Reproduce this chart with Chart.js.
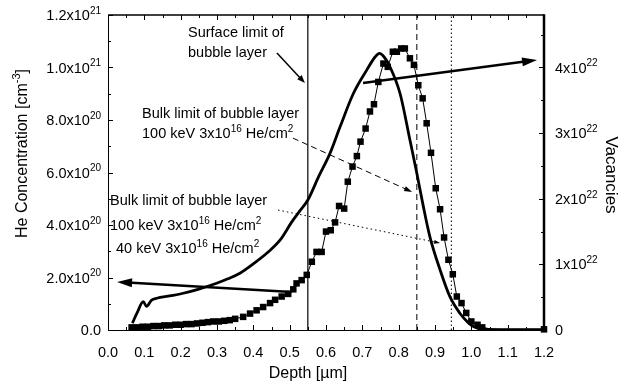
<!DOCTYPE html>
<html>
<head>
<meta charset="utf-8">
<script src="https://cdn.jsdelivr.net/npm/chart.js@4.4.1/dist/chart.umd.min.js"></script>
<style>
  body { margin: 0; background: #fff; }
  canvas { display: block; }
</style>
</head>
<body>
<canvas id="depthChart" width="621" height="390"></canvas>
<script>
// He concentration (cm^-3) against depth (um)
const heDepth = [0.067, 0.080, 0.097, 0.106, 0.120, 0.134, 0.170, 0.207, 0.250, 0.299,
  0.330, 0.363, 0.400, 0.440, 0.475, 0.505, 0.525, 0.550, 0.580, 0.611,
  0.639, 0.675, 0.712, 0.735, 0.747, 0.760, 0.776, 0.804, 0.831, 0.850,
  0.868, 0.886, 0.914, 0.941, 0.969, 0.990, 1.006, 1.030, 1.100, 1.200];
const heConc = [0.026e21, 0.065e21, 0.108e21, 0.090e21, 0.114e21, 0.121e21, 0.130e21, 0.140e21, 0.156e21, 0.178e21,
  0.195e21, 0.216e21, 0.252e21, 0.296e21, 0.345e21, 0.410e21, 0.448e21, 0.495e21, 0.585e21, 0.673e21,
  0.775e21, 0.900e21, 0.990e21, 1.040e21, 1.054e21, 1.040e21, 1.003e21, 0.900e21, 0.724e21, 0.597e21,
  0.470e21, 0.355e21, 0.229e21, 0.127e21, 0.063e21, 0.030e21, 0.013e21, 0.003e21, 0.001e21, 0.001e21];

// Vacancies against depth (um)
const vacDepth = [0.065, 0.080, 0.095, 0.110, 0.125, 0.140, 0.155, 0.170, 0.185, 0.200,
  0.215, 0.230, 0.245, 0.260, 0.275, 0.290, 0.305, 0.320, 0.335, 0.350,
  0.372, 0.391, 0.409, 0.427, 0.446, 0.460, 0.478, 0.496, 0.510, 0.519,
  0.533, 0.547, 0.561, 0.574, 0.588, 0.600, 0.613, 0.625, 0.636, 0.650,
  0.660, 0.673, 0.685, 0.695, 0.709, 0.721, 0.732, 0.744, 0.758, 0.770,
  0.784, 0.795, 0.807, 0.817, 0.831, 0.842, 0.854, 0.866, 0.877, 0.889,
  0.902, 0.914, 0.925, 0.937, 0.949, 0.960, 0.973, 0.986, 1.000, 1.017,
  1.030, 1.050, 1.080, 1.110, 1.140, 1.170, 1.200];
const vacCount = [0.04e22, 0.04e22, 0.05e22, 0.05e22, 0.06e22, 0.06e22, 0.07e22, 0.07e22, 0.08e22, 0.08e22,
  0.09e22, 0.09e22, 0.10e22, 0.11e22, 0.12e22, 0.13e22, 0.13e22, 0.14e22, 0.15e22, 0.17e22,
  0.20e22, 0.25e22, 0.30e22, 0.35e22, 0.41e22, 0.46e22, 0.51e22, 0.55e22, 0.62e22, 0.71e22,
  0.76e22, 0.84e22, 1.04e22, 1.19e22, 1.19e22, 1.50e22, 1.52e22, 1.64e22, 1.89e22, 1.85e22,
  2.26e22, 2.49e22, 2.65e22, 2.87e22, 3.07e22, 3.33e22, 3.44e22, 3.78e22, 4.06e22, 4.01e22,
  4.24e22, 4.24e22, 4.29e22, 4.29e22, 4.14e22, 4.04e22, 3.73e22, 3.53e22, 3.15e22, 2.70e22,
  2.16e22, 1.84e22, 1.41e22, 1.07e22, 0.85e22, 0.51e22, 0.41e22, 0.26e22, 0.13e22, 0.08e22,
  0.04e22, 0.02e22, 0.01e22, 0.01e22, 0.01e22, 0.01e22, 0.01e22];

// Bubble layer limits (um)
const surfaceLimit = 0.55;
const bulkLimit100 = 0.85;
const bulkLimit40 = 0.945;

// Tick labels, '^' starts a superscript
const depthTicks = [0, 0.1, 0.2, 0.3, 0.4, 0.5, 0.6, 0.7, 0.8, 0.9, 1.0, 1.1, 1.2];
const depthLabels = ['0.0', '0.1', '0.2', '0.3', '0.4', '0.5', '0.6', '0.7', '0.8', '0.9', '1.0', '1.1', '1.2'];
const heTicks = [0, 2e20, 4e20, 6e20, 8e20, 1e21, 1.2e21];
const heLabels = ['0.0', '2.0x10^20', '4.0x10^20', '6.0x10^20', '8.0x10^20', '1.0x10^21', '1.2x10^21'];
const vacTicks = [0, 1e22, 2e22, 3e22, 4e22];
const vacLabels = ['0', '1x10^22', '2x10^22', '3x10^22', '4x10^22'];

const FONT = '"Liberation Sans", Arial, Helvetica, sans-serif';

// draws text with ^NN superscripts; align is 'left' | 'right' | 'center'
function richText(ctx, text, x, y, size, align) {
  const parts = text.split(/\^(-?\d+)/);
  const supSize = Math.round(size * 0.68);
  let total = 0;
  const widths = parts.map((p, i) => {
    ctx.font = (i % 2 ? supSize : size) + 'px ' + FONT;
    const w = ctx.measureText(p).width;
    total += w;
    return w;
  });
  let cx = align === 'right' ? x - total : align === 'center' ? x - total / 2 : x;
  parts.forEach((p, i) => {
    ctx.font = (i % 2 ? supSize : size) + 'px ' + FONT;
    ctx.fillText(p, cx, i % 2 ? y - size * 0.42 : y);
    cx += widths[i];
  });
}

function arrow(ctx, x1, y1, x2, y2, width, head, half, dash) {
  const a = Math.atan2(y2 - y1, x2 - x1);
  const c = Math.cos(a), s = Math.sin(a);
  ctx.save();
  ctx.lineWidth = width;
  ctx.setLineDash(dash || []);
  ctx.beginPath();
  ctx.moveTo(x1, y1);
  ctx.lineTo(x2 - c * head * 0.7, y2 - s * head * 0.7);
  ctx.stroke();
  ctx.setLineDash([]);
  ctx.beginPath();
  ctx.moveTo(x2, y2);
  ctx.lineTo(x2 - c * head + s * half, y2 - s * head - c * half);
  ctx.lineTo(x2 - c * head - s * half, y2 - s * head + c * half);
  ctx.closePath();
  ctx.fill();
  ctx.restore();
}

// frame, inward ticks, tick labels, axis titles and annotations
const axesPlugin = {
  id: 'axesPlugin',
  afterDatasetsDraw(chart) {
    const ctx = chart.ctx;
    const { left, right, top, bottom } = chart.chartArea;
    const xs = chart.scales.x, ys = chart.scales.y, y2 = chart.scales.y2;
    ctx.save();
    ctx.strokeStyle = '#000';
    ctx.fillStyle = '#000';
    ctx.lineCap = 'butt';

    // frame
    ctx.lineWidth = 1;
    ctx.beginPath();
    ctx.moveTo(left + 0.5, top);
    ctx.lineTo(left + 0.5, bottom + 0.5);
    ctx.lineTo(right, bottom + 0.5);
    ctx.stroke();
    ctx.lineWidth = 1.5;
    ctx.beginPath();
    ctx.moveTo(left, top);
    ctx.lineTo(right, top);
    ctx.stroke();
    ctx.lineWidth = 2.5;
    ctx.beginPath();
    ctx.moveTo(right, top - 0.7);
    ctx.lineTo(right, bottom + 1.7);
    ctx.stroke();

    // ticks
    ctx.lineWidth = 1;
    ctx.beginPath();
    for (let i = 0; i <= 24; i++) {
      const px = Math.round(xs.getPixelForValue(i * 0.05)) + 0.5;
      const len = i % 2 ? 3 : 5;
      ctx.moveTo(px, bottom); ctx.lineTo(px, bottom - len);
      ctx.moveTo(px, top); ctx.lineTo(px, top + len);
    }
    for (let i = 0; i <= 12; i++) {
      const py = Math.round(ys.getPixelForValue(i * 1e20)) + 0.5;
      ctx.moveTo(left, py); ctx.lineTo(left + (i % 2 ? 3 : 5), py);
    }
    for (let i = 0; i <= 9; i++) {
      const py = Math.round(y2.getPixelForValue(i * 0.5e22)) + 0.5;
      ctx.moveTo(right, py); ctx.lineTo(right - (i % 2 ? 3 : 5), py);
    }
    ctx.stroke();

    // tick labels
    ctx.textBaseline = 'alphabetic';
    depthTicks.forEach((v, i) => {
      richText(ctx, depthLabels[i], xs.getPixelForValue(v), 357, 14.5, 'center');
    });
    heTicks.forEach((v, i) => {
      richText(ctx, heLabels[i], 101, ys.getPixelForValue(v) + 5, 14.5, 'right');
    });
    vacTicks.forEach((v, i) => {
      richText(ctx, vacLabels[i], 555, y2.getPixelForValue(v) + 5, 14.5, 'left');
    });

    // axis titles
    richText(ctx, 'Depth [\u00b5m]', 308, 378, 16, 'center');
    ctx.save();
    ctx.translate(27, 238);
    ctx.rotate(-Math.PI / 2);
    richText(ctx, 'He Concentration [cm^-3]', 0, 0, 16, 'left');
    ctx.restore();
    ctx.save();
    ctx.translate(606, 175);
    ctx.rotate(Math.PI / 2);
    richText(ctx, 'Vacancies', 0, 0, 17, 'center');
    ctx.restore();

    // annotation texts
    const notes = [
      ['Surface limit of', 188, 37],
      ['bubble layer', 188, 57],
      ['Bulk limit of bubble layer', 142, 118],
      ['100 keV 3x10^16 He/cm^2', 142, 138],
      ['Bulk limit of bubble layer', 110, 205],
      ['100 keV 3x10^16 He/cm^2', 110, 230],
      ['40 keV 3x10^16 He/cm^2', 116, 253]
    ];
    notes.forEach(n => richText(ctx, n[0], n[1], n[2], 14.5, 'left'));

    // arrows, given in depth / He concentration coordinates
    const P = (d, c) => [xs.getPixelForValue(d), ys.getPixelForValue(c)];
    const draw = (from, to, w, head, half, dash) => {
      const a = P(from[0], from[1]), b = P(to[0], to[1]);
      arrow(ctx, a[0], a[1], b[0], b[1], w, head, half, dash);
    };
    draw([0.506, 0.145e21], [0.025, 0.183e21], 2.6, 15, 4.5);
    draw([0.702, 0.941e21], [1.181, 1.029e21], 2.6, 15, 4.5);
    draw([0.465, 1.055e21], [0.542, 0.941e21], 1.5, 8, 3);
    draw([0.509, 0.731e21], [0.837, 0.526e21], 1, 8, 2.5, [6, 4]);
    draw([0.468, 0.457e21], [0.914, 0.331e21], 1, 6, 2, [1.5, 3]);

    ctx.restore();
  }
};

const limitLine = (x, width, dash) => ({
  data: [{ x: x, y: 0 }, { x: x, y: 1.2e21 }],
  yAxisID: 'y',
  borderColor: '#000',
  borderWidth: width,
  borderDash: dash,
  pointRadius: 0,
  fill: false
});

new Chart(document.getElementById('depthChart'), {
  type: 'line',
  data: {
    datasets: [
      {
        label: 'He concentration',
        data: heDepth.map((d, i) => ({ x: d, y: heConc[i] })),
        yAxisID: 'y',
        borderColor: '#000',
        borderWidth: 2.8,
        pointRadius: 0,
        cubicInterpolationMode: 'monotone',
        fill: false
      },
      {
        label: 'Vacancies',
        data: vacDepth.map((d, i) => ({ x: d, y: vacCount[i] })),
        yAxisID: 'y2',
        borderColor: '#000',
        borderWidth: 1,
        backgroundColor: '#000',
        pointStyle: 'rect',
        pointRadius: ctx => {
          const d = vacDepth[ctx.dataIndex];
          return d > 1.03 && d < 1.19 ? 0 : 4.6;
        },
        pointBorderWidth: 0,
        clip: 6,
        fill: false
      },
      limitLine(surfaceLimit, 1.2, []),
      limitLine(bulkLimit100, 1, [6, 4]),
      limitLine(bulkLimit40, 1, [1.5, 2.5])
    ]
  },
  options: {
    responsive: false,
    animation: false,
    devicePixelRatio: 1,
    events: [],
    layout: { padding: { left: 108, right: 77, top: 15, bottom: 60 } },
    plugins: { legend: { display: false }, tooltip: { enabled: false } },
    scales: {
      x: { type: 'linear', min: 0, max: 1.2, display: false },
      y: { type: 'linear', min: 0, max: 1.2e21, display: false },
      y2: { type: 'linear', min: 0, max: 4.8e22, display: false, position: 'right' }
    }
  },
  plugins: [axesPlugin]
});
</script>
</body>
</html>
